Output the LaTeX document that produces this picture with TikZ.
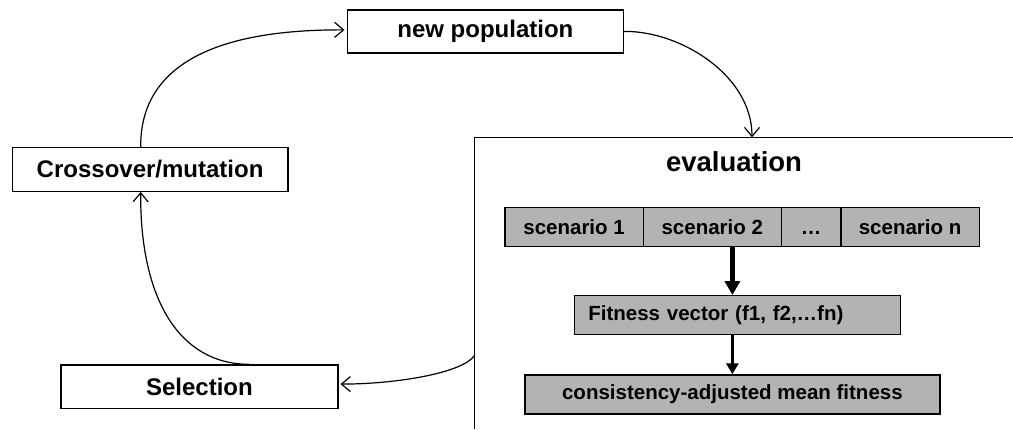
\documentclass[tikz,border=0pt]{standalone}
\usepackage{fontspec}
\setmainfont{Liberation Sans}
\usetikzlibrary{arrows.meta,calc}
\definecolor{cellgray}{RGB}{179,179,179}

\begin{document}
\begin{tikzpicture}[x=1pt,y=-1pt,
  stagebox/.style={draw, line width=1.2pt, inner sep=0pt, anchor=north west,
    font=\fontsize{24}{28}\selectfont\bfseries},
  cellbox/.style={draw, fill=cellgray, line width=1.2pt, inner sep=0pt, anchor=north west,
    font=\fontsize{20.5}{24}\selectfont\bfseries},
  rowcell/.style={cellbox, minimum height=39pt, text height=14.7pt, text depth=0pt},
  flow/.style={line width=1.2pt, -{Straight Barb[length=9pt,width=15pt,line width=1.2pt]}},
  bigflow/.style={line width=4.5pt, -{Triangle[length=14pt,width=15pt]}},
  midflow/.style={line width=3pt, -{Triangle[length=11pt,width=12pt]}}]

\useasboundingbox (0,0) rectangle (1013,429);

% outer stages of the loop
\node[stagebox, minimum width=276.5pt, minimum height=43pt] (newpop) at (346.5,9.3) {new population};
\node[stagebox, minimum width=275.6pt, minimum height=43.7pt] (cross) at (11.7,147) {Crossover/mutation};
\node[stagebox, minimum width=277pt, minimum height=43.4pt] (sel) at (60.3,364.3) {Selection};

% evaluation frame, open to the right and bottom
\coordinate (frameTL) at (474.7,137.3);
\draw[line width=1.2pt] (1013,137.3) -- (frameTL) -- (474.7,429);
\coordinate (evalOut) at (474.7,355);
\node[anchor=base, font=\fontsize{27.5}{32}\selectfont\bfseries] (evaltitle) at (734,171.7) {evaluation};

% scenario row
\node[rowcell, minimum width=138.4pt] (s1) at (504.3,206.7) {scenario 1};
\node[rowcell, minimum width=138pt] (s2) at (642.7,206.7) {scenario 2};
\node[rowcell, minimum width=59.6pt] (s3) at (780.7,206.7) {…};
\node[rowcell, minimum width=138.4pt] (s4) at (840.3,206.7) {scenario n};

% aggregated results
\node[cellbox, minimum height=39pt, inner xsep=14pt, text width=298.3pt, align=left] (fit) at (573.7,295) {Fitness vector (f1, f2,…fn)};
\node[cellbox, minimum width=415pt, minimum height=39pt] (cam) at (524.3,374.3) {consistency-adjusted mean fitness};

\draw[bigflow] (s2.south -| cam.north) -- (fit.north -| cam.north);
\draw[midflow] (fit.south -| cam.north) -- (cam.north);

% loop connectors
\draw[flow] (newpop.east) .. controls (680,30.8) and (752,75) .. (752,137.3);
\draw[flow] (evalOut) .. controls (465,372) and (400,384) .. ($(sel.east)+(2,-2.5)$);
\draw[flow] ($(sel.north west)!0.679!(sel.north east)$) .. controls (180,364.3) and (140,300) .. ($(cross.south west)!0.466!(cross.south east)$);
\draw[flow] ($(cross.north west)!0.466!(cross.north east)$) .. controls (140,60) and (225,29.3) .. ($(newpop.west)+(-2,-1.5)$);
\end{tikzpicture}
\end{document}
